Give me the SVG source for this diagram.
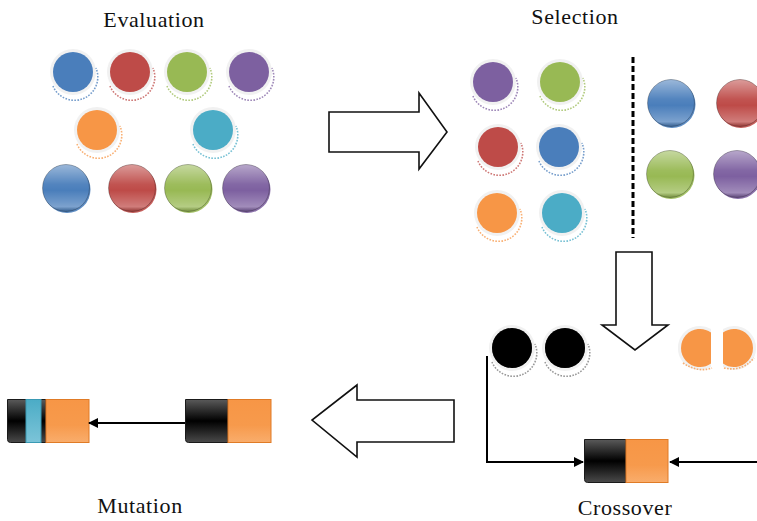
<svg xmlns="http://www.w3.org/2000/svg" xmlns:xlink="http://www.w3.org/1999/xlink" width="757" height="521" viewBox="0 0 757 521">
  <style>
    .label { font-family: "Liberation Serif", "Times New Roman", serif; font-size: 22px; fill: #111; text-anchor: middle; letter-spacing: 0.6px; }
    .bigarrow { fill: #fff; stroke: #111; stroke-width: 1.6; stroke-linejoin: miter; }
    .link { fill: none; stroke: #000; stroke-width: 2; }
    .divider { stroke: #000; stroke-width: 3; stroke-dasharray: 6 3; }
    .blk { fill: url(#blackGrad); stroke: #1a1a1a; stroke-width: 1; }
    .org { fill: url(#orangeGrad); stroke: #e07b26; stroke-width: 1; }
    .cyn { fill: url(#cyanGrad); stroke: #3a9ab4; stroke-width: 1; }
    .shadow { fill: none; stroke: currentColor; stroke-width: 1.6; stroke-dasharray: 1.6 1.4; opacity: 0.75; }
  </style>
  <defs>
    <linearGradient id="blackGrad" x1="0" y1="0" x2="0" y2="1">
      <stop offset="0" stop-color="#5a5a5a"/>
      <stop offset="0.5" stop-color="#000"/>
      <stop offset="1" stop-color="#4a4a4a"/>
    </linearGradient>
    <linearGradient id="orangeGrad" x1="0" y1="0" x2="0" y2="1">
      <stop offset="0" stop-color="#f79646"/>
      <stop offset="0.6" stop-color="#f79a4c"/>
      <stop offset="1" stop-color="#f9ad6c"/>
    </linearGradient>
    <linearGradient id="cyanGrad" x1="0" y1="0" x2="0" y2="1">
      <stop offset="0" stop-color="#4bacc6"/>
      <stop offset="1" stop-color="#7cc4d8"/>
    </linearGradient>
    <linearGradient id="gloss" x1="0" y1="0" x2="0" y2="1">
      <stop offset="0" stop-color="#fff" stop-opacity="0.45"/>
      <stop offset="0.42" stop-color="#fff" stop-opacity="0.05"/>
      <stop offset="0.55" stop-color="#fff" stop-opacity="0"/>
      <stop offset="0.9" stop-color="#fff" stop-opacity="0.28"/>
      <stop offset="1" stop-color="#000" stop-opacity="0.2"/>
    </linearGradient>
    <marker id="head" viewBox="0 0 10 10" refX="9" refY="5" markerWidth="5" markerHeight="5" orient="auto" markerUnits="strokeWidth">
      <path d="M0,0 L10,5 L0,10 Z" fill="#000"/>
    </marker>
    <!-- flat ball with soft rim and dotted drop shadow, tinted by color -->
    <g id="flatBall">
      <circle r="23" fill="#f1f1f1"/>
      <path class="shadow" d="M-20,14 A23,23 0 0 0 23,-4"/>
      <circle r="20" fill="currentColor"/>
    </g>
    <!-- glossy ball -->
    <g id="glossBall">
      <circle r="23.5" cx="1" cy="1.5" fill="currentColor" opacity="0.9"/>
      <circle r="23.5" fill="currentColor"/>
      <circle r="23.5" fill="url(#gloss)" stroke="#000" stroke-opacity="0.25" stroke-width="1"/>
    </g>
  </defs>

  <!-- stage titles -->
  <text class="label" x="154" y="27">Evaluation</text>
  <text class="label" x="575" y="24">Selection</text>
  <text class="label" x="140" y="513">Mutation</text>
  <text class="label" x="625" y="515">Crossover</text>

  <!-- evaluated population -->
  <g id="evaluation">
    <use id="e1" href="#flatBall" x="73" y="72" style="color:#4a7ebb"/>
    <use id="e2" href="#flatBall" x="130" y="72" style="color:#be4b48"/>
    <use id="e3" href="#flatBall" x="187" y="72" style="color:#98b954"/>
    <use id="e4" href="#flatBall" x="249" y="72" style="color:#7d60a0"/>
    <use id="e5" href="#flatBall" x="97" y="130" style="color:#f79646"/>
    <use id="e6" href="#flatBall" x="213" y="130" style="color:#4bacc6"/>
    <use id="e7" href="#glossBall" x="66" y="188" style="color:#4a7ebb"/>
    <use id="e8" href="#glossBall" x="132" y="188" style="color:#be4b48"/>
    <use id="e9" href="#glossBall" x="188" y="188" style="color:#98b954"/>
    <use id="e10" href="#glossBall" x="246" y="188" style="color:#7d60a0"/>
  </g>

  <!-- selected individuals and discarded ones -->
  <g id="selection">
    <use id="s1" href="#flatBall" x="493" y="82" style="color:#7d60a0"/>
    <use id="s2" href="#flatBall" x="560" y="82" style="color:#98b954"/>
    <use id="s3" href="#flatBall" x="498" y="147" style="color:#be4b48"/>
    <use id="s4" href="#flatBall" x="559" y="147" style="color:#4a7ebb"/>
    <use id="s5" href="#flatBall" x="497" y="213" style="color:#f79646"/>
    <use id="s6" href="#flatBall" x="562" y="213" style="color:#4bacc6"/>
    <line class="divider" x1="633" y1="57" x2="633" y2="238"/>
    <use id="s7" href="#glossBall" x="671" y="103" style="color:#4a7ebb"/>
    <use id="s8" href="#glossBall" x="740" y="103" style="color:#be4b48"/>
    <use id="s9" href="#glossBall" x="670" y="174" style="color:#98b954"/>
    <use id="s10" href="#glossBall" x="737" y="174" style="color:#7d60a0"/>
  </g>

  <!-- parents for crossover -->
  <g id="parents">
    <use id="p1" href="#flatBall" x="512" y="348" style="color:#777"/>
    <circle cx="512" cy="348" r="20" fill="#000"/>
    <use id="p2" href="#flatBall" x="565" y="348" style="color:#777"/>
    <circle cx="565" cy="348" r="20" fill="#000"/>
    <g id="p3" style="color:#f79646">
      <path d="M711,329 A22,22 0 1 0 711,367 L711,329 Z" fill="#f1f1f1"/>
      <path class="shadow" d="M683,363 Q698,373 712,368"/>
      <path d="M711,332.5 A19,19 0 1 0 711,363.5 Z" fill="#f79646"/>
      <path d="M723,329 A22,22 0 1 1 723,367 L723,329 Z" fill="#f1f1f1"/>
      <path class="shadow" d="M724,368 Q742,372 754,358"/>
      <path d="M723,332.5 A19,19 0 1 1 723,363.5 Z" fill="#f79646"/>
    </g>
  </g>

  <!-- offspring chromosome -->
  <g id="offspring">
    <path class="blk" d="M584.5,439.5 H626 V482.5 H587.5 Q584.5,482.5 584.5,479.5 Z"/>
    <rect class="org" x="626" y="439.5" width="42" height="43"/>
  </g>

  <!-- chromosome before mutation -->
  <g id="chromosome">
    <path class="blk" d="M185.5,399.5 H228 V442.5 H188.5 Q185.5,442.5 185.5,439.5 Z"/>
    <rect class="org" x="228" y="399.5" width="43" height="43"/>
  </g>

  <!-- mutated chromosome -->
  <g id="mutant">
    <path class="blk" d="M7.5,399.5 H46 V442.5 H10.5 Q7.5,442.5 7.5,439.5 Z"/>
    <rect class="cyn" x="26" y="399.5" width="15" height="43"/>
    <rect class="org" x="46" y="399.5" width="43" height="43"/>
  </g>

  <!-- flow arrows between stages -->
  <g id="stageArrows">
    <polygon class="bigarrow" points="329,112 419,112 419,93 447,132 419,169 419,152 329,152"/>
    <polygon class="bigarrow" points="616,252 652,252 652,325 668,325 635,350 602,325 616,325"/>
    <polygon class="bigarrow" points="454,400 357,400 357,385 312,420 357,457 357,442 454,442"/>
  </g>

  <!-- connectors -->
  <g id="connectors">
    <path class="link" d="M487,356 V462 H583" marker-end="url(#head)"/>
    <path class="link" d="M757,462 H670" marker-end="url(#head)"/>
    <path class="link" d="M185,423 H89" marker-end="url(#head)"/>
  </g>
</svg>
